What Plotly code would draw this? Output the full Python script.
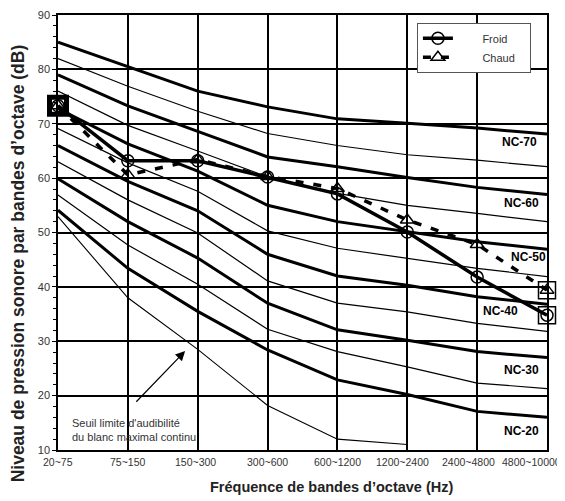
import plotly.graph_objects as go

# bandes d'octave (anciennes bandes)
bands = ["20~75", "75~150", "150~300", "300~600", "600~1200",
         "1200~2400", "2400~4800", "4800~10000"]

# courbes NC (dB)
nc70 = [85.0, 80.5, 76.0, 73.1, 70.9, 70.1, 69.2, 68.1]
nc65 = [82.0, 76.9, 72.3, 68.2, 66.0, 64.3, 63.3, 62.1]
nc60 = [79.0, 73.3, 68.6, 63.9, 62.1, 60.1, 58.3, 57.0]
nc55 = [76.0, 69.7, 65.0, 60.2, 57.2, 55.0, 53.5, 52.0]
nc50 = [72.8, 66.3, 61.3, 55.0, 52.0, 50.1, 48.3, 46.9]
nc45 = [69.1, 62.8, 57.6, 50.3, 47.1, 45.2, 43.4, 41.9]
nc40 = [66.0, 59.4, 54.0, 46.0, 42.0, 40.3, 38.2, 36.8]
nc35 = [63.0, 56.0, 49.9, 41.1, 37.0, 35.4, 33.3, 31.8]
nc30 = [59.9, 52.0, 45.3, 37.0, 32.1, 30.2, 28.1, 27.0]
nc25 = [56.9, 47.7, 40.5, 32.2, 28.1, 25.3, 22.3, 21.3]
nc20 = [54.1, 43.4, 35.5, 28.4, 22.9, 20.2, 17.1, 16.0]

# seuil d'audibilite (s'arrete a 1200~2400)
seuil = [52.9, 38.0, 28.5, 18.2, 12.0, 11.0]

# mesures
froid = [73.3, 63.2, 63.2, 60.2, 57.1, 50.1, 41.8, 34.8]
chaud = [73.3, 60.6, 63.4, 60.3, 58.1, 52.3, 47.8, 39.4]

curves = [("NC-70", nc70, True), ("NC-65", nc65, False), ("NC-60", nc60, True),
          ("NC-55", nc55, False), ("NC-50", nc50, True), ("NC-45", nc45, False),
          ("NC-40", nc40, True), ("NC-35", nc35, False), ("NC-30", nc30, True),
          ("NC-25", nc25, False), ("NC-20", nc20, True)]

# etiquettes NC (position en indice de bande, dB)
nc_labels = [("NC-70", 6.60, 66.6), ("NC-60", 6.63, 55.5), ("NC-50", 6.73, 45.5),
             ("NC-40", 6.34, 35.6), ("NC-30", 6.63, 24.8), ("NC-20", 6.63, 13.5)]

FONT = "Liberation Sans, Arial, sans-serif"
NB = "\u00a0"

# decalage (px) des etiquettes de bandes, comme sur l'original
label_shift = [0, 0, -2, 0, 0, -5, -9, -16]

fig = go.Figure()

for name, vals, thick in curves:
    fig.add_trace(go.Scatter(x=bands, y=vals, mode="lines", name=name,
                             line=dict(color="black", width=3 if thick else 1.2),
                             showlegend=False, hoverinfo="skip"))

fig.add_trace(go.Scatter(x=bands[:len(seuil)], y=seuil, mode="lines",
                         line=dict(color="black", width=1.1),
                         showlegend=False, hoverinfo="skip"))

# carres aux extremites
fig.add_trace(go.Scatter(
    x=[bands[0], bands[-1], bands[-1]], y=[froid[0], froid[-1], chaud[-1]],
    mode="markers", showlegend=False, cliponaxis=False,
    marker=dict(symbol="square-open", size=17, color="black",
                line=dict(color="black", width=[5, 1.5, 1.5]))))

fig.add_trace(go.Scatter(
    x=bands, y=froid, mode="lines+markers", name=NB * 8 + "Froid" + NB * 3,
    cliponaxis=False, line=dict(color="black", width=3.5),
    marker=dict(symbol="circle-open", size=12, color="black",
                line=dict(width=1.5))))
fig.add_trace(go.Scatter(
    x=bands, y=chaud, mode="lines+markers", name=NB * 8 + "Chaud" + NB * 3,
    cliponaxis=False, line=dict(color="black", width=3.5, dash="8px,10px"),
    marker=dict(symbol="triangle-up-open", size=12, color="black",
                line=dict(width=1.5))))

for txt, xi, yv in nc_labels:
    fig.add_annotation(x=xi, y=yv, text=f"<b>{txt}</b>", showarrow=False,
                       font=dict(size=12, color="black", family=FONT))

# etiquettes des bandes sous l'axe
for i, (b, s) in enumerate(zip(bands, label_shift)):
    fig.add_annotation(x=i, y=0, yref="paper", yanchor="top", yshift=-4,
                       xshift=s, text=b, showarrow=False,
                       font=dict(size=10.5, color="#333", family=FONT))

# fleche + texte du seuil
fig.add_annotation(x=1.82, y=28.2, ax=1.10, ay=18.6, axref="x", ayref="y",
                   text="", showarrow=True, arrowhead=2, arrowsize=1.6,
                   arrowwidth=1.2, arrowcolor="black")
fig.add_annotation(x=0.17, y=13.6, xanchor="left", yanchor="middle",
                   text="Seuil limite d'audibilité<br>du blanc maximal continu",
                   showarrow=False, align="left",
                   font=dict(size=11, color="#333", family=FONT))

# titres d'axes
fig.add_annotation(xref="paper", yref="paper", x=0.56, y=-0.085,
                   xanchor="center", yanchor="middle", showarrow=False,
                   text="<b>Fréquence de bandes d’octave (Hz)</b>",
                   font=dict(size=14.5, color="#222", family=FONT))
fig.add_annotation(xref="paper", yref="paper", x=-0.081, y=0.43,
                   xanchor="center", yanchor="middle", showarrow=False,
                   textangle=-90,
                   text="<b>Niveau de pression sonore par bandes d’octave (dB)</b>",
                   font=dict(size=17.5, color="#222", family=FONT))

# la page ajoute 8 px de marge autour du graphique
fig.update_layout(
    width=557, height=493,
    margin=dict(l=50, r=18, t=7, b=51, autoexpand=False),
    paper_bgcolor="white", plot_bgcolor="white",
    font=dict(family=FONT, size=11, color="#333"),
    legend=dict(x=0.734, y=0.982, xanchor="left", yanchor="top",
                bgcolor="white", bordercolor="#555", borderwidth=1,
                font=dict(size=11, color="#333"), tracegroupgap=2),
)
fig.update_xaxes(type="category", range=[0, 7], showgrid=True, automargin=False,
                 showticklabels=False,
                 gridcolor="black", gridwidth=1.5, showline=True,
                 linecolor="black", linewidth=1.5, mirror=True,
                 ticks="", zeroline=False)
fig.update_yaxes(range=[10, 90], dtick=10, showgrid=True, gridcolor="black",
                 automargin=False,
                 gridwidth=1.5, showline=True, linecolor="black", linewidth=1.5,
                 mirror=True, ticks="outside", ticklen=4, tickcolor="black",
                 tickfont=dict(size=11, color="#333"), zeroline=False,
                 minor=dict(dtick=2, ticks="outside", ticklen=3,
                            tickcolor="black", showgrid=False))

fig.write_html("out.html")
